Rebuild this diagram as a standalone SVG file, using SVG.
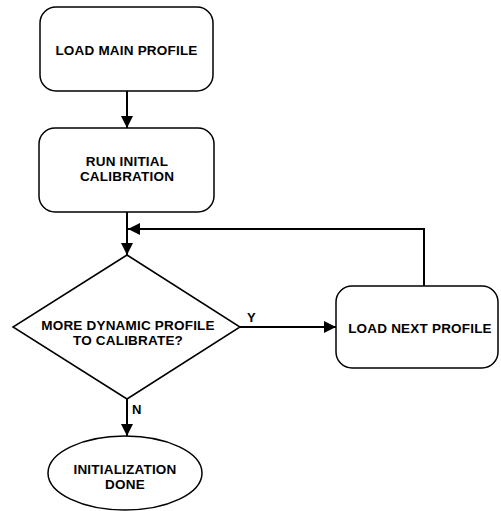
<svg xmlns="http://www.w3.org/2000/svg" width="501" height="511" viewBox="0 0 501 511">
<defs>
<marker id="ah" markerWidth="12" markerHeight="12" viewBox="0 0 12 12" refX="12" refY="6" orient="auto" markerUnits="userSpaceOnUse">
<path d="M0,0 L12,6 L0,12 Z" fill="#000"/>
</marker>
</defs>
<style>
.n{fill:#fff;stroke:#000;stroke-width:1.5}
.t{font-family:"Liberation Sans",Arial,sans-serif;font-weight:bold;font-size:13.5px;letter-spacing:0.2px;fill:#000;text-anchor:middle}
.l{font-family:"Liberation Sans",Arial,sans-serif;font-weight:bold;font-size:13px;fill:#000}
.c{fill:none;stroke:#000;stroke-width:2}
</style>
<rect width="501" height="511" fill="#fff"/>
<g id="connectors">
<line class="c" x1="127" y1="91" x2="127" y2="128" marker-end="url(#ah)"/>
<line class="c" x1="127" y1="212" x2="127" y2="255" marker-end="url(#ah)"/>
<polyline class="c" points="424,286 424,229 128,229" marker-end="url(#ah)"/>
<line class="c" x1="240" y1="327" x2="336" y2="327" marker-end="url(#ah)"/>
<line class="c" x1="127" y1="399" x2="127" y2="436" marker-end="url(#ah)"/>
<text class="l" x="247" y="322">Y</text>
<text class="l" x="132" y="414">N</text>
</g>
<g id="load-main">
<rect class="n" x="40" y="7" width="173" height="84" rx="16"/>
<text class="t" x="126.5" y="55">LOAD MAIN PROFILE</text>
</g>
<g id="run-initial">
<rect class="n" x="39" y="128" width="175" height="84" rx="16"/>
<text class="t" x="127" y="166">RUN INITIAL</text>
<text class="t" x="127" y="181">CALIBRATION</text>
</g>
<g id="decision">
<polygon class="n" points="127,255 240,327 127,399 13,327"/>
<text class="t" x="128" y="330">MORE DYNAMIC PROFILE</text>
<text class="t" x="128" y="345">TO CALIBRATE?</text>
</g>
<g id="load-next">
<rect class="n" x="336" y="286" width="162" height="82" rx="16"/>
<text class="t" x="420" y="333">LOAD NEXT PROFILE</text>
</g>
<g id="done">
<ellipse class="n" cx="125" cy="473" rx="77" ry="37"/>
<text class="t" x="125" y="474">INITIALIZATION</text>
<text class="t" x="125" y="489">DONE</text>
</g>
</svg>
